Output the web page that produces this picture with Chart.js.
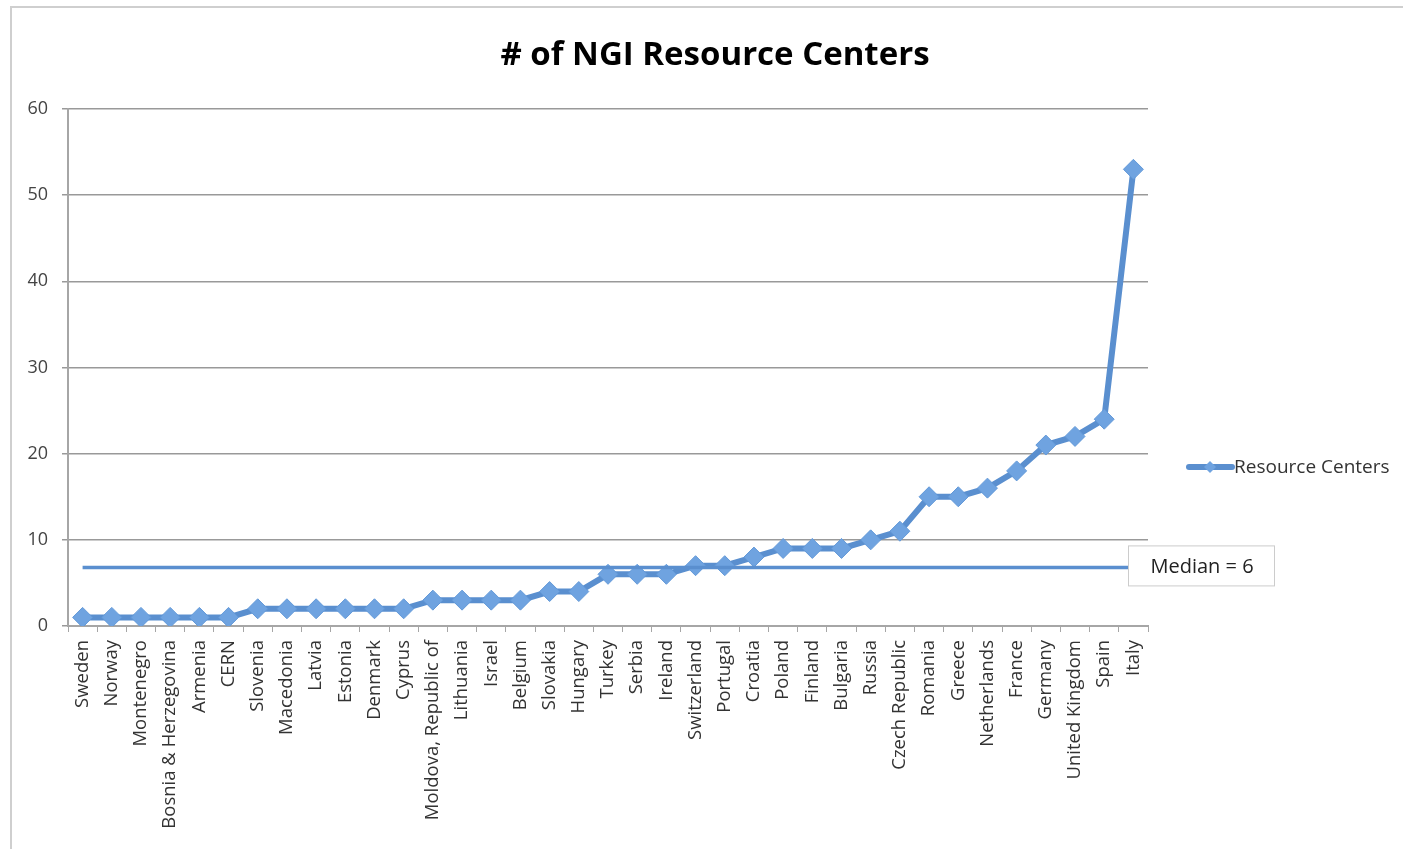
<!DOCTYPE html>
<html>
<head>
<meta charset="utf-8">
<script src="https://cdn.jsdelivr.net/npm/chart.js@4/dist/chart.umd.min.js"></script>
<style>
  html, body { margin: 0; padding: 0; background: #fff; overflow: hidden; }
  #frame { position: absolute; left: 10px; top: 6px; width: 1500px; height: 1000px; border: 2px solid #cfcfcf; }
  #wrap { position: absolute; left: 0; top: 0; width: 1403px; height: 849px; }
</style>
</head>
<body>
<div id="frame"></div>
<div id="wrap"><canvas id="chart" width="1403" height="849"></canvas></div>
<script>
// NGI resource centers, sorted ascending
const countries = [
  'Sweden', 'Norway', 'Montenegro', 'Bosnia & Herzegovina', 'Armenia', 'CERN',
  'Slovenia', 'Macedonia', 'Latvia', 'Estonia', 'Denmark', 'Cyprus',
  'Moldova, Republic of', 'Lithuania', 'Israel', 'Belgium', 'Slovakia', 'Hungary',
  'Turkey', 'Serbia', 'Ireland', 'Switzerland', 'Portugal', 'Croatia',
  'Poland', 'Finland', 'Bulgaria', 'Russia', 'Czech Republic', 'Romania',
  'Greece', 'Netherlands', 'France', 'Germany', 'United Kingdom', 'Spain', 'Italy'
];
const resourceCenters = [
  1, 1, 1, 1, 1, 1,
  2, 2, 2, 2, 2, 2,
  3, 3, 3, 3, 4, 4,
  6, 6, 6, 7, 7, 8,
  9, 9, 9, 10, 11, 15,
  15, 16, 18, 21, 22, 24, 53
];
// drawn median marker sits a little above 6 in the picture
const medianLevel = 6.8;
const medianLabel = 'Median = 6';
const yTicks = [0, 10, 20, 30, 40, 50, 60];

const blue = '#5a8fcf';
const lightBlue = '#6fa3e0';
const font = "'Open Sans', 'DejaVu Sans', sans-serif";

const extras = {
  id: 'extras',
  afterDraw(chart) {
    const ctx = chart.ctx;
    ctx.save();
    // title
    ctx.fillStyle = '#000';
    ctx.font = 'bold 33px ' + font;
    ctx.textAlign = 'center';
    ctx.textBaseline = 'middle';
    ctx.fillText('# of NGI Resource Centers', 715, 56);

    // legend
    const ly = 467;
    ctx.strokeStyle = blue;
    ctx.lineWidth = 6;
    ctx.lineCap = 'round';
    ctx.beginPath();
    ctx.moveTo(1189, ly);
    ctx.lineTo(1232, ly);
    ctx.stroke();
    ctx.fillStyle = lightBlue;
    ctx.beginPath();
    ctx.moveTo(1210, ly - 6);
    ctx.lineTo(1216, ly);
    ctx.lineTo(1210, ly + 6);
    ctx.lineTo(1204, ly);
    ctx.closePath();
    ctx.fill();
    ctx.fillStyle = '#333';
    ctx.font = '19px ' + font;
    ctx.textAlign = 'left';
    ctx.fillText('Resource Centers', 1234, ly + 1);

    // median label box
    const ys = chart.scales.y.getPixelForValue(medianLevel);
    ctx.fillStyle = '#fff';
    ctx.fillRect(1128, ys - 22, 146, 40);
    ctx.strokeStyle = '#cccccc';
    ctx.lineWidth = 1;
    ctx.strokeRect(1128.5, ys - 21.5, 146, 40);
    ctx.fillStyle = '#222';
    ctx.font = '20px ' + font;
    ctx.textAlign = 'center';
    ctx.fillText(medianLabel, 1202, ys);
    ctx.restore();
  }
};

new Chart(document.getElementById('chart'), {
  type: 'line',
  data: {
    labels: countries,
    datasets: [
      {
        label: 'Resource Centers',
        data: resourceCenters,
        borderColor: blue,
        borderWidth: 6,
        backgroundColor: lightBlue,
        pointStyle: 'rectRot',
        pointRadius: 10,
        pointBorderWidth: 1,
        pointBorderColor: '#6399d8',
        pointBackgroundColor: lightBlue,
        tension: 0,
        order: 2
      },
      {
        label: 'Median',
        data: countries.map(() => medianLevel),
        borderColor: blue,
        borderWidth: 3.5,
        pointRadius: 0,
        tension: 0,
        order: 1
      }
    ]
  },
  options: {
    responsive: false,
    animation: false,
    layout: { padding: { top: 109, right: 255, left: 0, bottom: 0 } },
    plugins: {
      legend: { display: false },
      title: { display: false },
      tooltip: { enabled: false }
    },
    scales: {
      x: {
        offset: true,
        grid: {
          offset: true,
          drawOnChartArea: false,
          drawTicks: true,
          tickLength: 6,
          color: '#a6a6a6'
        },
        border: { color: '#a6a6a6', width: 2 },
        ticks: {
          autoSkip: false,
          minRotation: 90,
          maxRotation: 90,
          padding: 8,
          color: '#333',
          font: { family: font, size: 18.5 }
        },
        afterFit(scale) { scale.height = 849 - 626; }
      },
      y: {
        min: 0,
        max: 60,
        afterBuildTicks(scale) { scale.ticks = yTicks.map(v => ({ value: v })); },
        grid: {
          color: '#999999',
          lineWidth: 1.5,
          tickLength: 6,
          drawTicks: true
        },
        border: { color: '#a6a6a6', width: 2 },
        ticks: {
          padding: 14,
          color: '#444',
          font: { family: font, size: 18 }
        },
        afterFit(scale) { scale.width = 68; }
      }
    }
  },
  plugins: [extras]
});
</script>
</body>
</html>
